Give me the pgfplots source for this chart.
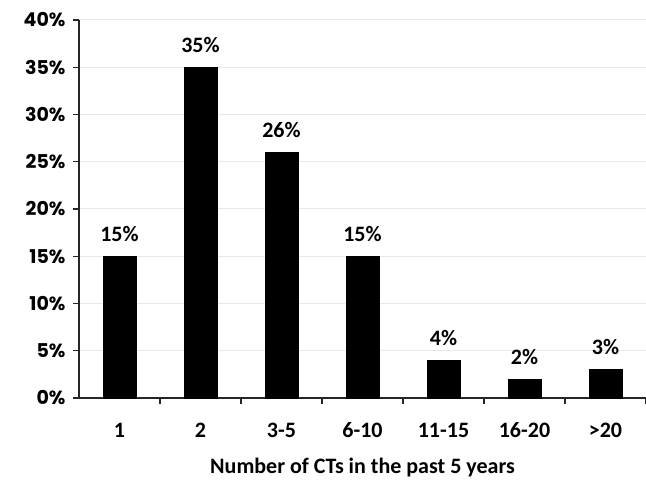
\documentclass[border=0pt]{standalone}
\usepackage{fontspec}
\setmainfont{Carlito}
\newfontfamily\pop{Poppins}
\usepackage{pgfplots}
\pgfplotsset{compat=1.18}
\definecolor{gridgray}{RGB}{232,232,232}
\begin{document}
\begin{tikzpicture}
\begin{axis}[
  scale only axis,
  width=567pt, height=378pt,
  xmin=-0.5, xmax=6.5,
  ymin=0, ymax=40,
  axis x line*=bottom, axis y line*=left,
  axis line style={black!85, line width=1.4pt},
  ybar, bar width=33pt,
  xtick={0,...,6},
  xticklabels={1,2,3-5,6-10,11-15,16-20,>20},
  major x tick style={draw=none},
  minor xtick={0.5,1.5,...,6.5},
  minor x tick style={black!85, line width=1.4pt},
  minor tick length=6pt,
  tick align=outside,
  ytick={0,5,...,40},
  yticklabels={0\%,5\%,10\%,15\%,20\%,25\%,30\%,35\%,40\%},
  major tick length=6pt,
  y tick style={black!85, line width=1.4pt},
  ymajorgrids, grid style={gridgray, line width=1pt},
  yticklabel style={font=\pop\bfseries\fontsize{19}{22}\selectfont, xshift=-4pt},
  xticklabel style={font=\bfseries\fontsize{22}{26}\selectfont, text height=2ex, text depth=0.4ex, yshift=-20pt},
  xlabel={Number of CTs in the past 5 years},
  xlabel style={font=\bfseries\fontsize{22}{26}\selectfont, yshift=-12pt},
  nodes near coords={\pgfmathprintnumber[assume math mode=true]{\pgfplotspointmeta}\%},
  nodes near coords style={font=\bfseries\fontsize{22}{26}\selectfont, anchor=south, yshift=11pt},
  clip=false,
]
\addplot[fill=black, draw=black] coordinates {(0,15) (1,35) (2,26) (3,15) (4,4) (5,2) (6,3)};
\coordinate (bl) at (rel axis cs:0,0);
\coordinate (tr) at (rel axis cs:1,1);
\end{axis}
\pgfresetboundingbox
\path[use as bounding box] ([shift={(-79pt,-85pt)}]bl) rectangle ([shift={(0pt,20pt)}]tr);
\end{tikzpicture}
\end{document}
